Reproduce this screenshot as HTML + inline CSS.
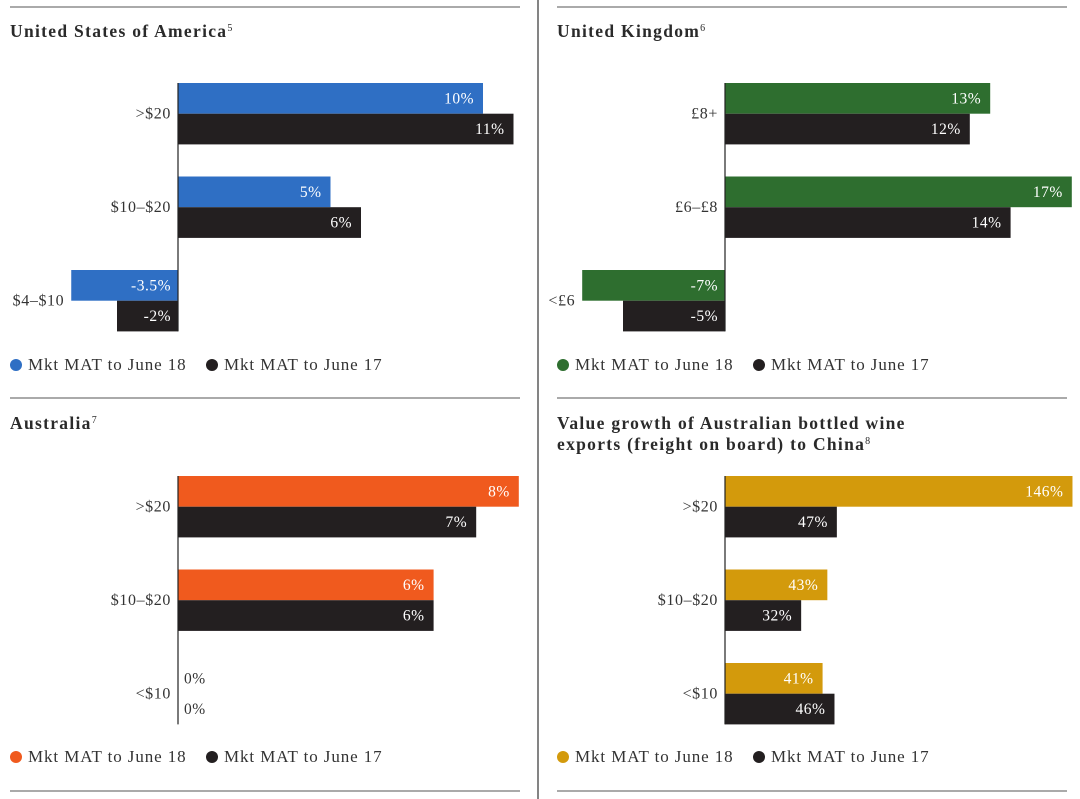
<!DOCTYPE html>
<html><head><meta charset="utf-8"><style>
html,body{margin:0;padding:0;background:#fff;}
svg{display:block;font-family:"Liberation Serif",serif;}
</style></head><body>
<svg id="c" width="1080" height="799" viewBox="0 0 1080 799" xmlns="http://www.w3.org/2000/svg"></svg>
<script>
// ---- data ----
const usaCategories = [">$20", "$10\u2013$20", "$4\u2013$10"];
const usaJune18 = [10, 5, -3.5];
const usaJune17 = [11, 6, -2];
const usaLabels18 = ["10%", "5%", "-3.5%"];
const usaLabels17 = ["11%", "6%", "-2%"];

const ukCategories = ["\u00a38+", "\u00a36\u2013\u00a38", "<\u00a36"];
const ukJune18 = [13, 17, -7];
const ukJune17 = [12, 14, -5];
const ukLabels18 = ["13%", "17%", "-7%"];
const ukLabels17 = ["12%", "14%", "-5%"];

const ausCategories = [">$20", "$10\u2013$20", "<$10"];
const ausJune18 = [8, 6, 0];
const ausJune17 = [7, 6, 0];
const ausLabels18 = ["8%", "6%", "0%"];
const ausLabels17 = ["7%", "6%", "0%"];

const chinaCategories = [">$20", "$10\u2013$20", "<$10"];
const chinaJune18 = [146, 43, 41];
const chinaJune17 = [47, 32, 46];
const chinaLabels18 = ["146%", "43%", "41%"];
const chinaLabels17 = ["47%", "32%", "46%"];

const legendLabels = ["Mkt MAT to June 18", "Mkt MAT to June 17"];

const NS = "http://www.w3.org/2000/svg";
const svg = document.getElementById("c");
function mk(tag, attrs, parent) {
  const e = document.createElementNS(NS, tag);
  for (const k in attrs) e.setAttribute(k, attrs[k]);
  (parent || svg).appendChild(e);
  return e;
}

[[10,520,7],[557,1067,7],[10,520,398],[557,1067,398],[10,520,791],[557,1067,791]].forEach(function(l){
  const ln = mk("line",{x1:l[0],x2:l[1],y1:l[2],y2:l[2],stroke:"#777","stroke-width":1.3});
  
  
});
const dv = mk("line",{x1:538,x2:538,y1:0,y2:799,stroke:"#333","stroke-width":1.2});



function panel(opt) {
  const g = mk("g", {});
  
  
  opt.title.forEach(function(t, i){
    const tx = mk("text",{x:opt.x0, y:opt.titleY + i*21, "font-size":17.5, "font-weight":"bold", fill:"#2a2a2a", "letter-spacing":1.3}, g);
    
    
    tx.textContent = t;
    if (i === opt.title.length - 1) {
      const s = mk("tspan",{"font-size":10, dy:-6, "font-weight":"normal", "letter-spacing":0}, tx);
      s.textContent = opt.note;
    }
  });
  const xs = function(v){ return opt.axis + v * opt.scale; };
  const rowTops = [opt.top, opt.top + 93.5, opt.top + 187];
  const h = 30.7;
  opt.cats.forEach(function(cat, i){
    const y1 = rowTops[i], y2 = y1 + h;
    [[opt.s18, opt.l18, opt.color, y1, 'bar-june-18'], [opt.s17, opt.l17, "#231f20", y2, 'bar-june-17']].forEach(function(s){
      const v = s[0][i];
      const xa = Math.min(xs(0), xs(v)), w = Math.abs(xs(v) - xs(0));
      if (w > 0) {
        const r = mk("rect",{x:xa, y:s[3], width:w, height:h, fill:s[2]}, g);
        
        
      }
      const t = mk("text",{"font-size":15.5, "letter-spacing":0.5, y:s[3] + h/2 + 5}, g);
      
      
      if (v === 0) {
        t.setAttribute("x", xs(0) + 6); t.setAttribute("fill", "#333");
      } else if (v > 0) {
        t.setAttribute("x", xs(v) - 9); t.setAttribute("text-anchor","end"); t.setAttribute("fill","#fff");
      } else {
        t.setAttribute("x", xs(0) - 7); t.setAttribute("text-anchor","end"); t.setAttribute("fill","#fff");
      }
      t.textContent = s[1][i];
    });
    const left = Math.min(xs(0), xs(opt.s18[i]), xs(opt.s17[i]));
    const cl = mk("text",{x:left - 7, y:y2 + 5, "text-anchor":"end", "font-size":16, "letter-spacing":0.6, fill:"#333"}, g);
    
    
    cl.textContent = cat;
  });
  const ax = mk("line",{x1:opt.axis, x2:opt.axis, y1:opt.top, y2:rowTops[2] + 2*h, stroke:"#222", "stroke-width":1.2}, g);
  
  
  [[opt.color, legendLabels[0], opt.x0 + 6], ["#231f20", legendLabels[1], opt.x0 + 202]].forEach(function(l){
    const lg = mk("g", {}, g);
    
    
    mk("circle",{cx:l[2], cy:opt.legendY - 5, r:6, fill:l[0]}, lg);
    const lt = mk("text",{x:l[2] + 12, y:opt.legendY, "font-size":17, "letter-spacing":0.9, fill:"#333"}, lg);
    lt.textContent = l[1];
  });
}

panel({name:"usa-chart", x0:10, title:["United States of America"], note:"5", titleY:37, axis:178, scale:30.5, top:83,
  cats:usaCategories, s18:usaJune18, s17:usaJune17, l18:usaLabels18, l17:usaLabels17, color:"#2f6fc4", legendY:370});
panel({name:"uk-chart", x0:557, title:["United Kingdom"], note:"6", titleY:37, axis:725, scale:20.4, top:83,
  cats:ukCategories, s18:ukJune18, s17:ukJune17, l18:ukLabels18, l17:ukLabels17, color:"#2e6e2f", legendY:370});
panel({name:"australia-chart", x0:10, title:["Australia"], note:"7", titleY:429, axis:178, scale:42.6, top:476,
  cats:ausCategories, s18:ausJune18, s17:ausJune17, l18:ausLabels18, l17:ausLabels17, color:"#f05a1e", legendY:762});
panel({name:"china-chart", x0:557, title:["Value growth of Australian bottled wine","exports (freight on board) to China"], note:"8", titleY:429, axis:725, scale:2.38, top:476,
  cats:chinaCategories, s18:chinaJune18, s17:chinaJune17, l18:chinaLabels18, l17:chinaLabels17, color:"#d39a0c", legendY:762});
</script>
</body></html>
